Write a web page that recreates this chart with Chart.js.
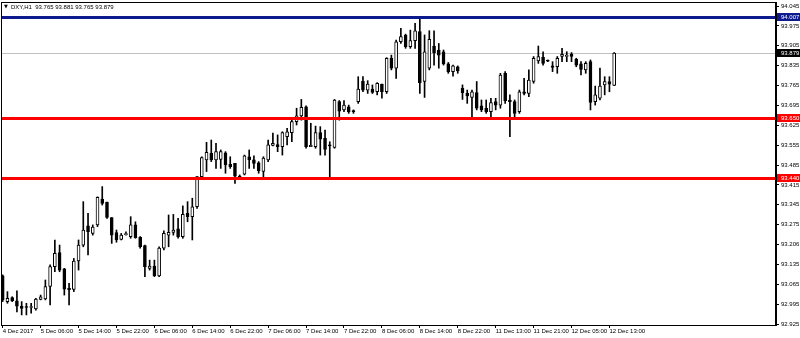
<!DOCTYPE html>
<html>
<head>
<meta charset="utf-8">
<script src="https://cdn.jsdelivr.net/npm/chart.js@4/dist/chart.umd.min.js"></script>
<style>
html,body{margin:0;padding:0;background:#fff;}
#c{display:block;}
</style>
</head>
<body>
<canvas id="c" width="800" height="338"></canvas>
<script>
// ---- DATA ----
const title = "DXY,H1  93.765 93.881 93.765 93.879";
const tickLabels = ["4 Dec 2017","5 Dec 06:00","5 Dec 14:00","5 Dec 22:00","6 Dec 06:00","6 Dec 14:00","6 Dec 22:00","7 Dec 06:00","7 Dec 14:00","7 Dec 22:00","8 Dec 06:00","8 Dec 14:00","8 Dec 22:00","11 Dec 13:00","11 Dec 21:00","12 Dec 05:00","12 Dec 13:00"];
const barsPerTick = 8;
const yTickLabels = ["94.045","93.975","93.905","93.835","93.765","93.695","93.625","93.555","93.485","93.415","93.345","93.275","93.206","93.135","93.065","92.995","92.925"];

const opens = [93.095,93.004,93.018,93.007,92.988,92.985,92.983,92.978,93.012,93.013,
93.057,93.127,93.177,93.119,93.051,93.047,93.147,93.203,93.271,93.244,
93.274,93.365,93.354,93.300,93.247,93.223,93.240,93.233,93.274,93.230,
93.201,93.121,93.129,93.094,93.192,93.238,93.248,93.260,93.233,93.315,
93.303,93.338,93.444,93.503,93.526,93.503,93.505,93.528,93.487,93.491,
93.446,93.453,93.514,93.503,93.493,93.462,93.503,93.554,93.557,93.550,
93.585,93.599,93.638,93.658,93.690,93.550,93.550,93.599,93.579,93.556,
93.547,93.708,93.679,93.690,93.675,93.708,93.781,93.749,93.752,93.743,
93.770,93.743,93.861,93.826,93.919,93.943,93.902,93.923,93.955,93.779,
93.826,93.904,93.890,93.884,93.841,93.814,93.831,93.755,93.737,93.723,
93.740,93.693,93.685,93.673,93.708,93.696,93.808,93.714,93.708,93.673,
93.743,93.737,93.779,93.852,93.864,93.852,93.834,93.831,93.867,93.867,
93.875,93.857,93.841,93.820,93.849,93.708,93.720,93.767,93.779,93.765];

const highs = [93.098,93.039,93.021,93.042,93.004,92.998,92.998,93.015,93.027,93.080,
93.133,93.221,93.203,93.121,93.068,93.156,93.221,93.356,93.315,93.274,
93.373,93.409,93.354,93.300,93.256,93.244,93.250,93.303,93.285,93.233,
93.203,93.150,93.150,93.197,93.253,93.309,93.311,93.297,93.341,93.356,
93.368,93.444,93.514,93.565,93.573,93.561,93.538,93.532,93.514,93.491,
93.450,93.520,93.538,93.517,93.497,93.514,93.573,93.597,93.591,93.602,
93.614,93.643,93.685,93.716,93.693,93.632,93.622,93.620,93.608,93.567,
93.716,93.712,93.712,93.696,93.679,93.796,93.796,93.782,93.767,93.775,
93.770,93.863,93.872,93.925,93.966,93.946,93.960,93.984,94.007,93.943,
93.958,93.958,93.913,93.890,93.846,93.837,93.834,93.767,93.749,93.749,
93.779,93.714,93.714,93.720,93.720,93.808,93.814,93.732,93.714,93.749,
93.790,93.820,93.867,93.904,93.884,93.855,93.849,93.867,93.896,93.884,
93.881,93.861,93.849,93.849,93.855,93.763,93.826,93.796,93.796,93.881];

const lows = [93.004,92.998,93.004,92.968,92.957,92.957,92.963,92.974,93.010,93.010,
92.992,93.109,93.109,93.027,92.992,93.039,93.115,93.197,93.168,93.238,
93.268,93.344,93.297,93.209,93.213,93.221,93.238,93.227,93.227,93.192,
93.092,93.115,93.092,93.092,93.186,93.197,93.238,93.227,93.227,93.285,
93.221,93.332,93.438,93.462,93.497,93.473,93.473,93.456,93.473,93.420,
93.438,93.450,93.473,93.473,93.456,93.444,93.497,93.552,93.532,93.520,
93.556,93.567,93.626,93.643,93.544,93.550,93.544,93.520,93.520,93.441,
93.544,93.643,93.673,93.667,93.667,93.702,93.743,93.737,93.737,93.732,
93.720,93.737,93.820,93.790,93.913,93.896,93.896,93.896,93.737,93.723,
93.820,93.837,93.826,93.837,93.808,93.798,93.808,93.716,93.702,93.649,
93.679,93.673,93.667,93.649,93.679,93.685,93.702,93.585,93.649,93.667,
93.732,93.726,93.773,93.843,93.837,93.849,93.814,93.808,93.849,93.849,
93.849,93.831,93.802,93.808,93.679,93.696,93.714,93.732,93.743,93.765];

const closes = [93.010,93.015,93.006,92.988,92.980,92.983,92.985,93.013,93.021,93.057,
93.127,93.174,93.115,93.048,93.046,93.147,93.203,93.256,93.250,93.266,
93.371,93.350,93.300,93.238,93.221,93.238,93.242,93.274,93.229,93.197,
93.127,93.129,93.094,93.192,93.244,93.248,93.256,93.233,93.311,93.303,
93.338,93.444,93.511,93.530,93.503,93.532,93.532,93.485,93.479,93.446,
93.441,93.517,93.503,93.491,93.465,93.509,93.556,93.561,93.550,93.599,
93.602,93.638,93.658,93.688,93.550,93.554,93.599,93.576,93.540,93.552,
93.714,93.675,93.696,93.673,93.673,93.752,93.749,93.770,93.741,93.773,
93.743,93.861,93.826,93.919,93.937,93.902,93.923,93.958,93.775,93.884,
93.928,93.881,93.872,93.841,93.814,93.834,93.816,93.740,93.728,93.743,
93.685,93.679,93.673,93.705,93.696,93.802,93.712,93.708,93.667,93.743,
93.737,93.784,93.861,93.867,93.843,93.851,93.829,93.861,93.875,93.872,
93.867,93.837,93.822,93.843,93.705,93.732,93.763,93.779,93.770,93.879];

const levelValues = [94.007, 93.650, 93.440];
const bidValue = 93.879;

// ---- STYLES ----
const levelColors = ["#0d1a8e", "#ff0000", "#ff0000"];
const FONT = "'Liberation Sans', Arial, sans-serif";

const bodyData = opens.map((o, i) => ({x: i, y: [Math.min(o, closes[i]), Math.max(o, closes[i])]}));
const wickData = lows.map((l, i) => ({x: i, y: [l, highs[i]]}));
const bodyColors = opens.map((o, i) => closes[i] >= o ? "#ffffff" : "#000000");

const overlayPlugin = {
  id: 'overlay',
  beforeDatasetsDraw(chart) {
    const {ctx, chartArea: a, scales: {y}} = chart;
    const py = Math.round(y.getPixelForValue(bidValue)) + 0.5;
    ctx.save();
    ctx.strokeStyle = "#c0c0c0";
    ctx.lineWidth = 1;
    ctx.beginPath(); ctx.moveTo(a.left, py); ctx.lineTo(a.right, py); ctx.stroke();
    ctx.restore();
  },
  afterDatasetsDraw(chart) {
    const {ctx, chartArea: a, scales: {y}} = chart;
    ctx.save();
    levelValues.forEach((v, k) => {
      const py = Math.round(y.getPixelForValue(v)) + 0.5;
      ctx.strokeStyle = levelColors[k];
      ctx.lineWidth = 3;
      ctx.beginPath(); ctx.moveTo(a.left, py); ctx.lineTo(a.right, py); ctx.stroke();
    });
    ctx.restore();
  },
  afterDraw(chart) {
    const {ctx, chartArea: a, scales: {y}} = chart;
    ctx.save();
    ctx.strokeStyle = "#000";
    ctx.lineWidth = 1;
    ctx.strokeRect(a.left + 0.5, a.top + 0.5, a.right - a.left - 1, a.bottom - a.top);
    ctx.font = "6px " + FONT;
    ctx.textBaseline = "middle";
    ctx.textAlign = "left";
    const boxes = [[bidValue, "#000000"]].concat(levelValues.map((v, k) => [v, levelColors[k]]));
    boxes.forEach(([v, col]) => {
      const py = Math.round(y.getPixelForValue(v));
      ctx.fillStyle = col;
      ctx.fillRect(a.right + 1, py - 4, 800 - a.right - 1, 8);
      ctx.fillStyle = "#fff";
      ctx.fillText(v.toFixed(3), a.right + 5, py + 0.5);
    });
    ctx.fillStyle = "#000";
    ctx.font = "5px DejaVu Sans";
    ctx.fillText("\u25BC", 4, 7);
    ctx.font = "6px " + FONT;
    ctx.fillText(title, 11, 7);
    ctx.restore();
  }
};

new Chart(document.getElementById('c'), {
  type: 'bar',
  data: {
    datasets: [
      {
        data: bodyData,
        backgroundColor: bodyColors,
        borderColor: "#000",
        borderWidth: 1,
        borderSkipped: false,
        barThickness: 3,
        minBarLength: 1,
        grouped: false
      },
      {
        data: wickData,
        backgroundColor: "#000",
        borderWidth: 0,
        barThickness: 1,
        grouped: false
      }
    ]
  },
  options: {
    responsive: false,
    animation: false,
    devicePixelRatio: 1,
    layout: {padding: {left: 1, top: 2, right: 0, bottom: 0}},
    plugins: {legend: {display: false}, tooltip: {enabled: false}},
    scales: {
      x: {
        type: 'linear',
        min: -0.36,
        max: 163.14,
        offset: false,
        grid: {drawOnChartArea: false, drawTicks: true, tickLength: 3, color: "#000", offset: false},
        border: {display: true, color: "#000"},
        ticks: {
          align: 'start', maxRotation: 0, minRotation: 0, autoSkip: false,
          padding: 0, color: "#000", font: {size: 6, family: FONT},
          callback: (v) => tickLabels[Math.round(v / barsPerTick)] || ''
        },
        afterBuildTicks(scale) {
          scale.ticks = tickLabels.map((_, k) => ({value: k * barsPerTick}));
        },
        afterFit(scale) {
          scale.height = 13;
          scale.paddingLeft = 0; scale.paddingRight = 0;
        }
      },
      y: {
        type: 'linear',
        position: 'right',
        min: 92.9215,
        max: 94.0591,
        grid: {drawOnChartArea: false, drawTicks: true, tickLength: 3, color: "#000"},
        border: {display: true, color: "#000"},
        ticks: {
          padding: 2, color: "#000", font: {size: 6, family: FONT},
          callback: (v, idx) => yTickLabels[idx]
        },
        afterBuildTicks(scale) {
          scale.ticks = yTickLabels.map(s => ({value: parseFloat(s)}));
        },
        afterFit(scale) {
          scale.width = 24;
          scale.paddingTop = 0; scale.paddingBottom = 0;
        }
      }
    }
  },
  plugins: [overlayPlugin]
});
</script>
</body>
</html>
